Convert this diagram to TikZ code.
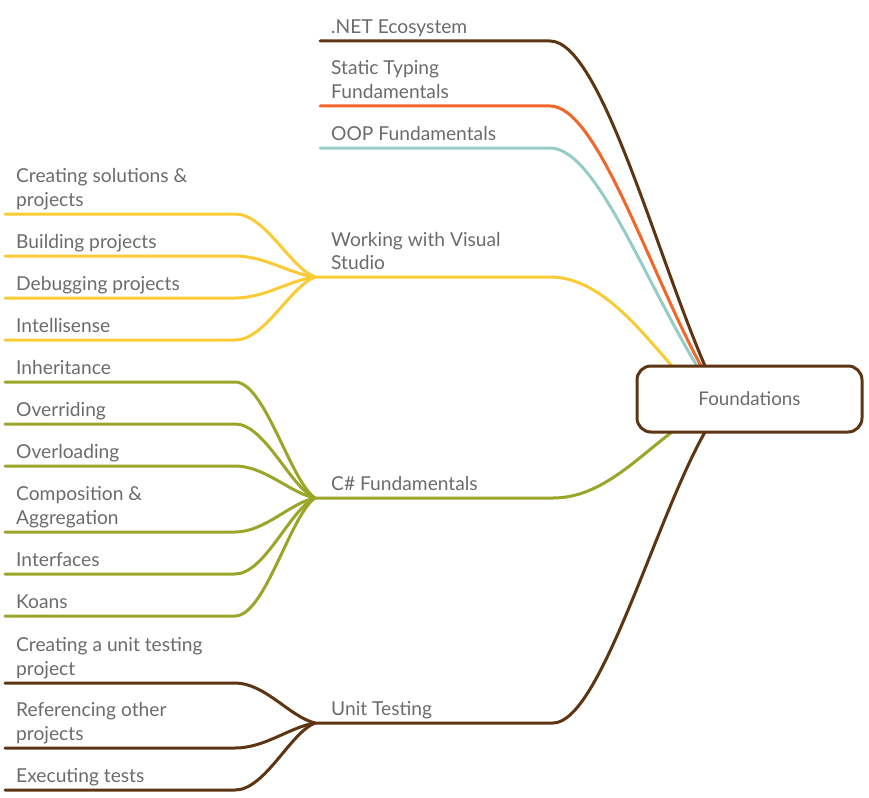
\documentclass[tikz,border=0pt]{standalone}
\usepackage{fontspec}
\setmainfont{Lato}
\definecolor{brn}{HTML}{5E3512}
\definecolor{org}{HTML}{F3662A}
\definecolor{teal}{HTML}{96CCC8}
\definecolor{ylw}{HTML}{FACB35}
\definecolor{olv}{HTML}{9BA52A}
\definecolor{txtgray}{HTML}{6B6B6B}
\tikzset{lbl/.style = {anchor=base west, inner sep = 0, align=left, text=txtgray,
                       font=\fontsize{19.2}{23.5}\selectfont, yshift=-1.5pt}}
\tikzset{branch/.style = {line width=3pt, line cap=round, draw=#1}}
\tikzset{hub/.style = {draw=brn, line width=3pt, fill=white, rounded corners=14pt,
                       minimum width=225pt, minimum height=66pt, text=txtgray,
                       font=\fontsize{18.8}{22}\selectfont}}
\begin{document}
\begin{tikzpicture}[x=1pt, y=-1pt]
      \useasboundingbox (0, 0) rectangle (869, 797);

      % main branches
      \coordinate (net-l) at (320, 41);   \coordinate (net-r) at (550, 41);
      \coordinate (stat-l) at (320, 106); \coordinate (stat-r) at (550, 106);
      \coordinate (oop-l) at (320, 148);  \coordinate (oop-r) at (550, 148);
      \coordinate (vs-l) at (315, 277);   \coordinate (vs-r) at (550, 277);
      \coordinate (cs-l) at (315, 498);   \coordinate (cs-r) at (553, 498);
      \coordinate (ut-l) at (315, 723);   \coordinate (ut-r) at (553, 723);

      \coordinate (in-net) at (705, 366);
      \coordinate (in-stat) at (701, 366);
      \coordinate (in-oop) at (697, 366);
      \coordinate (in-vs) at (672, 366);
      \coordinate (in-cs) at (672, 432);
      \coordinate (in-ut) at (705, 432);

      \draw [branch=brn] (net-l) -- (net-r) .. controls (600, 41) and (655, 250) .. (in-net);
      \draw [branch=org] (stat-l) -- (stat-r) .. controls (597, 106) and (648, 268) .. (in-stat);
      \draw [branch=teal] (oop-l) -- (oop-r) .. controls (595, 148) and (642, 275) .. (in-oop);
      \draw [branch=ylw] (vs-l) -- (vs-r) .. controls (600, 277) and (640, 330) .. (in-vs);
      \draw [branch=olv] (cs-l) -- (cs-r) .. controls (600, 498) and (635, 460) .. (in-cs);
      \draw [branch=brn] (ut-l) -- (ut-r) .. controls (600, 723) and (655, 520) .. (in-ut);

      \node [lbl] (net) at (331, 32) {.NET Ecosystem};
      \node [lbl] (stat) at (331, 97) {Static Typing\\Fundamentals};
      \node [lbl] (oop) at (331, 138.5) {OOP Fundamentals};
      \node [lbl] (vs) at (331, 268) {Working with Visual\\Studio};
      \node [lbl] (cs) at (331, 488.5) {C\# Fundamentals};
      \node [lbl] (ut) at (331, 713.5) {Unit Testing};

      % Visual Studio
      \coordinate (vs1) at (5, 214);
      \coordinate (vs2) at (5, 256);
      \coordinate (vs3) at (5, 298);
      \coordinate (vs4) at (5, 340);
      \draw [branch=ylw] (vs1) -- (235, 214) .. controls (265, 214) and (290, 267.5) .. (vs-l);
      \draw [branch=ylw] (vs2) -- (235, 256) .. controls (265, 256) and (290, 274) .. (vs-l);
      \draw [branch=ylw] (vs3) -- (235, 298) .. controls (265, 298) and (290, 280) .. (vs-l);
      \draw [branch=ylw] (vs4) -- (235, 340) .. controls (265, 340) and (290, 286.5) .. (vs-l);
      \node [lbl] (vs1-t) at (16, 204.5) {Creating solutions \&\\projects};
      \node [lbl] (vs2-t) at (16, 246.5) {Building projects};
      \node [lbl] (vs3-t) at (16, 288.5) {Debugging projects};
      \node [lbl] (vs4-t) at (16, 330.5) {Intellisense};

      % C# Fundamentals
      \coordinate (cs1) at (5, 382);
      \coordinate (cs2) at (5, 424);
      \coordinate (cs3) at (5, 466);
      \coordinate (cs4) at (5, 532);
      \coordinate (cs5) at (5, 574);
      \coordinate (cs6) at (5, 616);
      \draw [branch=olv] (cs1) -- (235, 382) .. controls (265, 382) and (290, 480.6) .. (cs-l);
      \draw [branch=olv] (cs2) -- (235, 424) .. controls (265, 424) and (290, 487) .. (cs-l);
      \draw [branch=olv] (cs3) -- (235, 466) .. controls (265, 466) and (290, 493) .. (cs-l);
      \draw [branch=olv] (cs4) -- (235, 532) .. controls (265, 532) and (290, 503) .. (cs-l);
      \draw [branch=olv] (cs5) -- (235, 574) .. controls (265, 574) and (290, 509) .. (cs-l);
      \draw [branch=olv] (cs6) -- (235, 616) .. controls (265, 616) and (290, 515.7) .. (cs-l);
      \node [lbl] (cs1-t) at (16, 372.5) {Inheritance};
      \node [lbl] (cs2-t) at (16, 414.5) {Overriding};
      \node [lbl] (cs3-t) at (16, 456.5) {Overloading};
      \node [lbl] (cs4-t) at (16, 522.5) {Composition \&\\Aggregation};
      \node [lbl] (cs5-t) at (16, 564.5) {Interfaces};
      \node [lbl] (cs6-t) at (16, 606.5) {Koans};

      % Unit Testing
      \coordinate (ut1) at (5, 683);
      \coordinate (ut2) at (5, 748);
      \coordinate (ut3) at (5, 790);
      \draw [branch=brn] (ut1) -- (235, 683) .. controls (265, 683) and (290, 717) .. (ut-l);
      \draw [branch=brn] (ut2) -- (235, 748) .. controls (265, 748) and (290, 727) .. (ut-l);
      \draw [branch=brn] (ut3) -- (235, 790) .. controls (265, 790) and (290, 733) .. (ut-l);
      \node [lbl] (ut1-t) at (16, 673.5) {Creating a unit testing\\project};
      \node [lbl] (ut2-t) at (16, 738.5) {Referencing other\\projects};
      \node [lbl] (ut3-t) at (16, 780.5) {Executing tests};

      \node [hub] (found) at (749.5, 399) {Foundations};
    \end{tikzpicture}
\end{document}
